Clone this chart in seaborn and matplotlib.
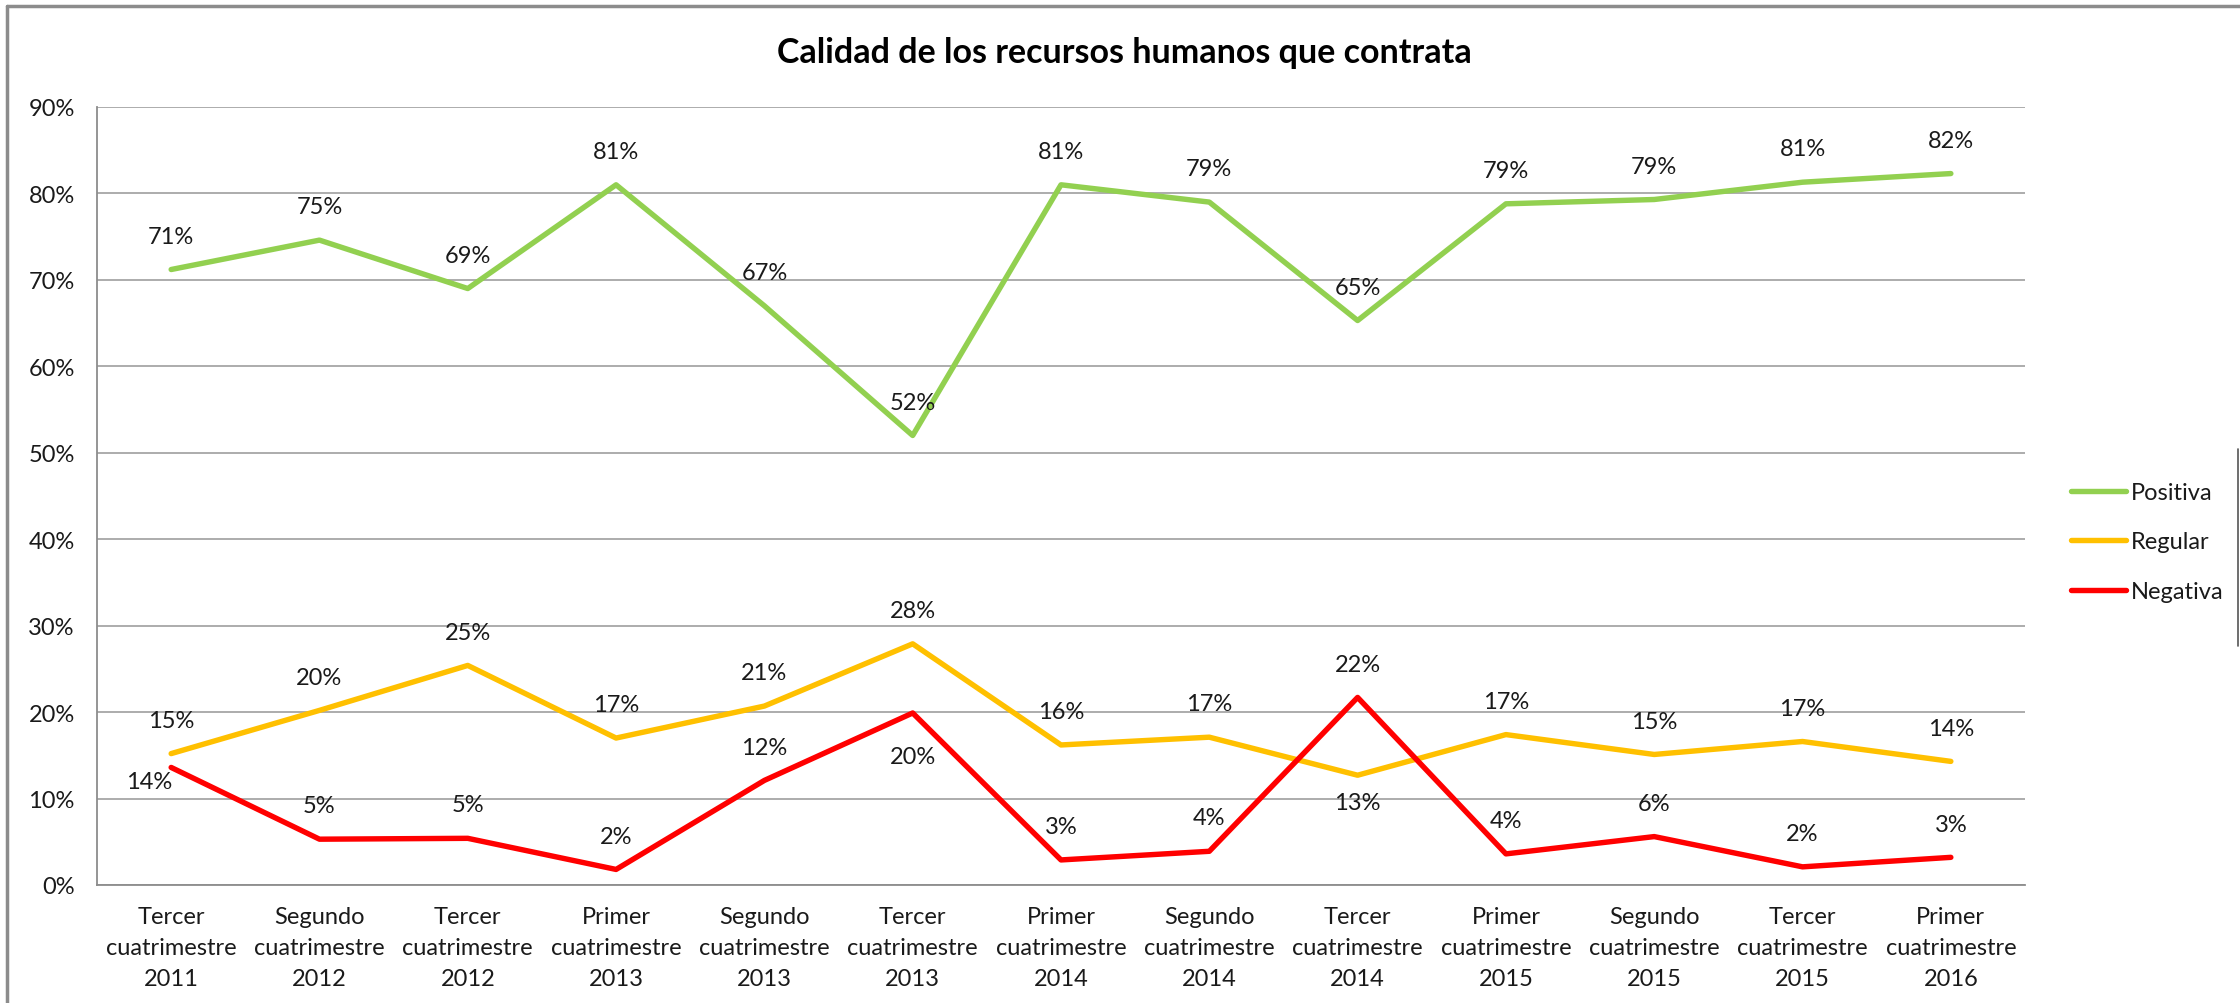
import matplotlib
matplotlib.use("Agg")
import matplotlib.pyplot as plt
from matplotlib.lines import Line2D
from matplotlib.ticker import FuncFormatter
import seaborn as sns
import pandas as pd

# %% data
periodos = [
    "Tercer\ncuatrimestre\n2011", "Segundo\ncuatrimestre\n2012", "Tercer\ncuatrimestre\n2012",
    "Primer\ncuatrimestre\n2013", "Segundo\ncuatrimestre\n2013", "Tercer\ncuatrimestre\n2013",
    "Primer\ncuatrimestre\n2014", "Segundo\ncuatrimestre\n2014", "Tercer\ncuatrimestre\n2014",
    "Primer\ncuatrimestre\n2015", "Segundo\ncuatrimestre\n2015", "Tercer\ncuatrimestre\n2015",
    "Primer\ncuatrimestre\n2016",
]
positiva = [71.2, 74.6, 69.0, 81.0, 67.0, 52.0, 81.0, 79.0, 65.3, 78.8, 79.3, 81.3, 82.3]
regular = [15.2, 20.2, 25.4, 17.0, 20.7, 27.9, 16.2, 17.1, 12.7, 17.4, 15.1, 16.6, 14.3]
negativa = [13.6, 5.3, 5.4, 1.8, 12.1, 19.9, 2.9, 3.9, 21.7, 3.6, 5.6, 2.1, 3.2]

series = {"Positiva": positiva, "Regular": regular, "Negativa": negativa}
colores = {"Positiva": "#92D050", "Regular": "#FFC000", "Negativa": "#FF0000"}

# labels that Excel put below the line instead of above: (series, index) -> offset in points
label_offsets = {
    ("Regular", 8): (0, -20),
    ("Negativa", 0): (-16, -10),
    ("Negativa", 5): (0, -31),
}

df = pd.concat(
    [pd.DataFrame({"periodo": periodos, "valor": v, "serie": k}) for k, v in series.items()],
    ignore_index=True,
)

# %% plot
sns.set_style("white")
plt.rcParams["font.family"] = ["Lato", "DejaVu Sans"]
txt = "#1A1A1A"
fs = 17

fig = plt.figure(figsize=(22.4, 10.04), dpi=100)
ax = fig.add_axes([97 / 2240, 1 - 886 / 1004, (2025 - 97) / 2240, (886 - 108) / 1004])

sns.lineplot(data=df, x="periodo", y="valor", hue="serie", palette=colores,
             sort=False, linewidth=3.9, ax=ax, legend=False)

for k, v in series.items():
    for i, val in enumerate(v):
        off = label_offsets.get((k, i), (0, 24))
        ax.annotate(f"{round(val)}%", (i, val), xytext=off, textcoords="offset points",
                    ha="center", va="center", fontsize=fs, color=txt)

ax.set_xlim(-0.5, len(periodos) - 0.5)
ax.set_ylim(0, 90)
ax.set_yticks(range(0, 91, 10))
ax.yaxis.set_major_formatter(FuncFormatter(lambda y, _: f"{y:.0f}%"))
ax.grid(axis="y", color="#A6A6A6", linewidth=1.3)
ax.set_xlabel("")
ax.set_ylabel("")
ax.tick_params(axis="both", length=0, labelsize=fs, labelcolor=txt)
ax.tick_params(axis="y", pad=16)
ax.tick_params(axis="x", pad=15)
for lbl in ax.get_xticklabels():
    lbl.set_linespacing(1.6)
for s in ["top", "right"]:
    ax.spines[s].set_visible(False)
for s in ["left", "bottom"]:
    ax.spines[s].set_color("#8C8C8C")
    ax.spines[s].set_linewidth(1.3)

fig.suptitle("Calidad de los recursos humanos que contrata", x=0.502, y=1 - 53 / 1004,
             va="center", fontsize=24.5, fontweight="bold", color="#000000")

handles = [Line2D([], [], color=colores[k], linewidth=3.9, solid_capstyle="round") for k in series]
fig.legend(handles, list(series), loc="center left", bbox_to_anchor=(2062 / 2240, 1 - 543 / 1004),
           frameon=False, fontsize=fs, handlelength=2.3, handletextpad=0.2, labelspacing=1.2,
           labelcolor=txt, borderaxespad=0)

# chart border as in the spreadsheet
fig.add_artist(Line2D([7 / 2240, 1], [1 - 7 / 1004, 1 - 7 / 1004], color="#8C8C8C", linewidth=2.5))
fig.add_artist(Line2D([7 / 2240, 7 / 2240], [0, 1 - 7 / 1004], color="#8C8C8C", linewidth=2.5))
fig.add_artist(Line2D([2238 / 2240, 2238 / 2240], [1 - 450 / 1004, 1 - 647 / 1004], color="#555555", linewidth=1.2))

fig.savefig("out.png", dpi=100)
